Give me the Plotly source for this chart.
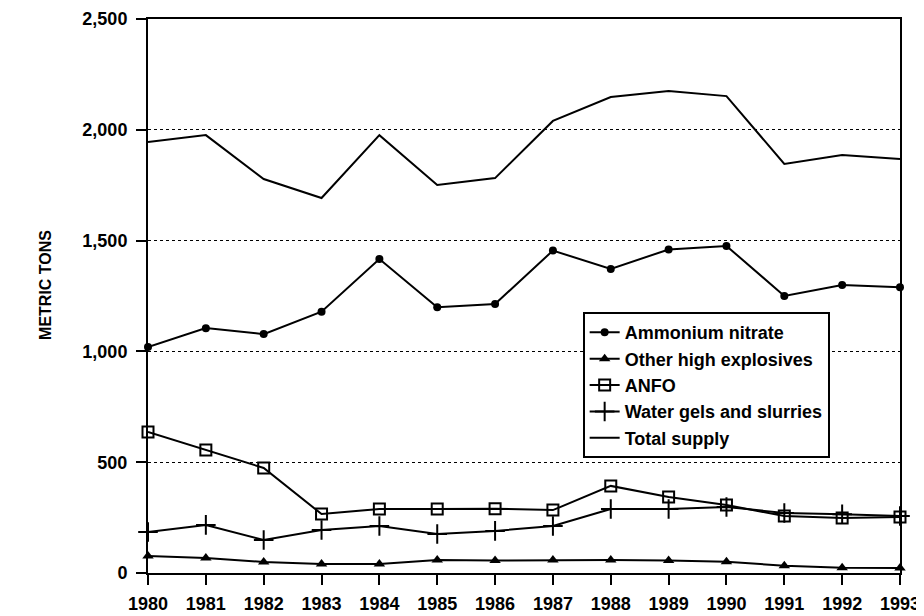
import plotly.graph_objects as go

years = list(range(1980, 1994))
ammonium_nitrate = [1020, 1105, 1078, 1179, 1417, 1199, 1214, 1455, 1372, 1460, 1476, 1250, 1300, 1290]
other_high_explosives = [77, 68, 50, 41, 41, 59, 56, 59, 59, 56, 51, 33, 24, 22]
anfo = [636, 555, 474, 266, 289, 289, 290, 284, 393, 343, 307, 257, 248, 253]
water_gels = [185, 217, 149, 194, 212, 176, 190, 212, 289, 289, 298, 271, 265, 257]
total_supply = [1945, 1976, 1778, 1692, 1976, 1751, 1782, 2040, 2148, 2175, 2152, 1846, 1886, 1868]
y_ticks = [0, 500, 1000, 1500, 2000, 2500]
y_tick_labels = ["0", "500", "1,000", "1,500", "2,000", "2,500"]

fig = go.Figure()
line = dict(color="black", width=2)
fig.add_trace(go.Scatter(x=years, y=ammonium_nitrate, name="Ammonium nitrate", mode="lines+markers",
                         line=line, marker=dict(symbol="circle", size=8, color="black"), cliponaxis=False))
fig.add_trace(go.Scatter(x=years, y=other_high_explosives, name="Other high explosives", mode="lines+markers",
                         line=line, marker=dict(symbol="triangle-up", size=10, color="black"), cliponaxis=False))
fig.add_trace(go.Scatter(x=years, y=anfo, name="ANFO", mode="lines+markers",
                         line=line, marker=dict(symbol="square-open", size=11, color="black", line=dict(width=2)), cliponaxis=False))
fig.add_trace(go.Scatter(x=years, y=water_gels, name="Water gels and slurries", mode="lines+markers",
                         line=line, marker=dict(symbol="cross-thin-open", size=14, color="black", line=dict(width=2)), cliponaxis=False))
fig.add_trace(go.Scatter(x=years, y=total_supply, name="Total supply", mode="lines",
                         line=line, cliponaxis=False))

fig.update_layout(
    width=924, height=616,
    margin=dict(l=140, r=32, t=11, b=51, autoexpand=False),
    paper_bgcolor="white", plot_bgcolor="white",
    font=dict(family="Liberation Sans, Arial, sans-serif", color="black"),
    showlegend=True,
    legend=dict(x=0.578, y=0.471, xanchor="left", yanchor="top",
                bgcolor="white", bordercolor="black", borderwidth=2,
                font=dict(size=18, weight="bold"), itemwidth=30, tracegroupgap=0),
    annotations=[dict(text="METRIC TONS", x=-0.1356, y=0.52, xref="paper", yref="paper",
                      textangle=-90, showarrow=False, xanchor="center", yanchor="middle",
                      font=dict(size=16, weight="bold"))],
)
fig.update_xaxes(range=[1980, 1993], tickvals=years, ticks="outside", ticklen=10, tickwidth=2,
                 tickcolor="black", showline=True, linecolor="black", linewidth=2, mirror=True,
                 showgrid=False, zeroline=False, automargin=False, ticklabelstandoff=3,
                 tickfont=dict(size=18, weight="bold"))
fig.update_yaxes(range=[0, 2500], tickvals=y_ticks, ticktext=y_tick_labels, ticks="outside", ticklen=10,
                 tickwidth=2, tickcolor="black", showline=True, linecolor="black", linewidth=2, mirror=True,
                 showgrid=True, gridcolor="black", griddash="dot", gridwidth=1, zeroline=False,
                 automargin=False, ticklabelstandoff=5, tickfont=dict(size=18, weight="bold"))

fig.write_html("out.html")
